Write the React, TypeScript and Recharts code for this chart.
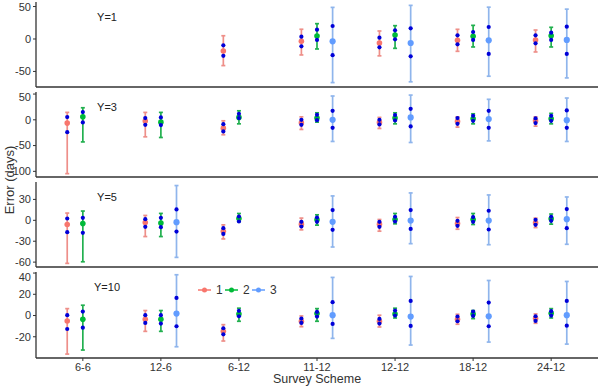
import { ErrorBar, Legend, Scatter, ScatterChart, XAxis, YAxis } from 'recharts';

const schemes = ['6-6', '12-6', '6-12', '11-12', '12-12', '18-12', '24-12'];
const seriesNames = ['1', '2', '3'];
const seriesColors = ['#F8766D', '#00BA38', '#619CFF'];
const barColors = ['#EE8F89', '#22B04F', '#8FB5EC'];
const quartileColor = '#0000D8';
const dodge = [-0.2, 0, 0.2];

// each row: [mean, low, high, lower dot, upper dot], null when missing
type Row = [number, number, number, number, number] | null;

const y1s1: Row[] = [null, null, [-18.5, -41, 5, -26, -9.7], [-3.6, -24.6, 15, -11.3, 3.6], [-6.2, -26, 12.3, -12.8, 2], [-2, -19, 14.9, -8.2, 5.6], [-1.5, -20, 13.8, -6.7, 5.6]];
const y1s2: Row[] = [null, null, null, [4.6, -15.4, 23.6, -1.5, 14.3], [6.2, -14.4, 20.5, -0.5, 13.3], [4.1, -12.3, 21, -1.5, 10.8], [5.1, -12.3, 18, -1.5, 9.7]];
const y1s3: Row[] = [null, null, null, [-3.6, -67.2, 48.7, -25, 20], [-6.2, -66, 51.8, -26.7, 16.4], [-2, -57.4, 49, -23, 18.5], [-1.5, -60, 46, -23, 19]];

const y3s1: Row[] = [[-6.4, -104.5, 14.4, -24, 5.3], [-2.5, -33, 14.4, -9.7, 3.3], [-16.2, -29, -1.9, -22.6, -8.4], [-5.8, -18.7, 5.8, -9.7, 0], [-5, -16.8, 4.7, -9, 0], [-3.1, -14.2, 5.8, -7.8, 3.3], [-1.9, -12.3, 5.8, -6.4, 2.7]];
const y3s2: Row[] = [[5.8, -42.9, 23.4, -5.1, 15], [-4.5, -34.3, 14.4, -10.3, 4.7], [4.7, -7.8, 17.5, 3.3, 11.7], [3.3, -4.5, 13.6, -0.6, 9.7], [3.3, -7.8, 13.6, -1.2, 9.2], [2, -7.8, 11.7, -1.9, 7.8], [2, -7.8, 12.5, -1.9, 7.8]];
const y3s3: Row[] = [null, null, null, [0, -42, 46.2, -15.6, 17.5], [4.7, -44, 48, -12.9, 21.4], [1.4, -40.9, 39.8, -15.6, 17.5], [-0.6, -42, 42.3, -15.6, 18.3]];

const y5s1: Row[] = [[-6, -61.8, 10.4, -17, 2.6], [-3.1, -23.3, 7, -9.4, 1.7], [-15.6, -26.7, -6.5, -19.5, -11.3], [-5.5, -13.7, 3.2, -8.9, -2.2], [-5.5, -15.6, 1.2, -9.4, -2.2], [-4.6, -12.8, 4, -7.9, -0.7], [-3.6, -10.4, 3.2, -6.5, 0.7]];
const y5s2: Row[] = [[-4.6, -59.5, 13.3, -18, 3.6], [-4, -23.3, 9.9, -9.9, 3.6], [2.6, -1.7, 9.8, -1.7, 5.5], [0.7, -6.9, 7.9, -2.2, 4], [1.2, -5, 9.8, -1.7, 5.1], [1.2, -6, 9.8, -2.2, 4.6], [2.2, -5.5, 9, -0.7, 5.1]];
const y5s3: Row[] = [null, [-2.6, -53.2, 49.9, -16.2, 15.6], null, [-2.2, -38.3, 35, -13.7, 14.7], [-0.3, -33.5, 39.3, -12.3, 14.7], [-0.3, -35, 36.4, -13.2, 13.7], [1.7, -34.4, 33.5, -11.3, 16.2]];

const y10s1: Row[] = [[-5.1, -36.3, 6.5, -12.7, 0.3], [-3.5, -14.9, 4.7, -7, 0.3], [-14.9, -24, -8.6, -17.7, -12], [-5.4, -10.5, -0.4, -7, -2.9], [-5.4, -10.8, 0.3, -7.6, -3.2], [-3.5, -8.2, 1.2, -5.4, -1], [-2.9, -7.3, 1.5, -5.1, -0.7]];
const y10s2: Row[] = [[-3.5, -32.5, 9.7, -11.4, 3.7], [-3.5, -14.9, 4.7, -7.6, 0.3], [1.5, -5.4, 6.9, -0.7, 4.4], [1.8, -5.4, 6.5, -1, 3.4], [1.5, -2.3, 6.9, 0, 4.7], [1.5, -2.9, 4.7, -0.4, 3.7], [2.2, -2.3, 6.5, 0, 4.1]];
const y10s3: Row[] = [null, [1.8, -29.4, 38.4, -10.1, 16.6], null, [0.3, -21.5, 35.9, -7.9, 12.6], [-1, -27.8, 36.8, -9.8, 13.8], [-0.7, -25, 33, -10.1, 12.2], [0.3, -26.9, 32.1, -9.6, 13.8]];

const y1Ticks = [-50, -25, 0, 25, 50];
const y3Ticks = [-100, -50, 0, 50];
const y5Ticks = [-60, -30, 0, 30];
const y10Ticks = [-20, 0, 20, 40];
const xTicks = [1, 2, 3, 4, 5, 6, 7];

const panels = [
  { label: 'Y=1', top: 2, h: 85, domain: [-74, 57], ticks: y1Ticks, rows: [y1s1, y1s2, y1s3] },
  { label: 'Y=3', top: 92, h: 85, domain: [-111, 54], ticks: y3Ticks, rows: [y3s1, y3s2, y3s3] },
  { label: 'Y=5', top: 182, h: 85, domain: [-67, 55], ticks: y5Ticks, rows: [y5s1, y5s2, y5s3] },
  { label: 'Y=10', top: 272, h: 86, domain: [-40, 41], ticks: y10Ticks, rows: [y10s1, y10s2, y10s3] },
];

function toMeans(rows: Row[], s: number) {
  const pts: any[] = [];
  rows.forEach((r, i) => {
    if (!r) return;
    pts.push({ x: i + 1 + dodge[s], y: r[0], err: [r[0] - r[1], r[2] - r[0]] });
  });
  return pts;
}

function toQuartiles(rows: Row[][]) {
  const pts: any[] = [];
  rows.forEach((series, s) =>
    series.forEach((r, i) => {
      if (!r) return;
      pts.push({ x: i + 1 + dodge[s], y: r[3] });
      pts.push({ x: i + 1 + dodge[s], y: r[4] });
    }),
  );
  return pts;
}

const dot = (color: string, r: number) => (props: any) => (
  <circle cx={props.cx} cy={props.cy} r={r} fill={color} />
);

const LegendKeys = (props: any) => {
  const items = (props.payload || []).filter((it: any) => seriesNames.includes(it.value));
  return (
    <svg width={90} height={14}>
      {items.map((it: any, i: number) => (
        <g key={it.value} transform={`translate(${i * 27},0)`}>
          <line x1={0} x2={13} y1={7} y2={7} stroke={it.color} strokeWidth={1.5} />
          <circle cx={6.5} cy={7} r={2.5} fill={it.color} />
          <text x={18} y={11} fontSize={12} fill='#333'>
            {it.value}
          </text>
        </g>
      ))}
    </svg>
  );
};

function Panel({ p, last }: { p: (typeof panels)[number]; last: boolean }) {
  const axisH = last ? 30 : 5;
  return (
    <div style={{ position: 'absolute', left: 0, top: p.top - 1 }}>
      <ScatterChart
        width={600}
        height={p.h + 1 + axisH}
        margin={{ top: 1, right: 2, bottom: 0, left: 0 }}
      >
        <XAxis
          type='number'
          dataKey='x'
          domain={[0.4, 7.6]}
          ticks={xTicks}
          allowDataOverflow
          height={axisH}
          tickFormatter={v => schemes[v - 1]}
          tick={last ? { fontSize: 11, fill: '#333' } : false}
          tickSize={3}
          tickLine={{ stroke: '#333' }}
          axisLine={{ stroke: '#333', strokeWidth: 1.3 }}
          label={
            last
              ? { value: 'Survey Scheme', position: 'insideBottom', offset: 5, fill: '#333', fontSize: 12.5 }
              : undefined
          }
        />
        <XAxis
          xAxisId='top'
          orientation='top'
          type='number'
          domain={[0.4, 7.6]}
          allowDataOverflow
          height={0}
          tick={false}
          tickLine={false}
          axisLine={{ stroke: '#bbb' }}
        />
        <YAxis
          type='number'
          dataKey='y'
          domain={p.domain}
          ticks={p.ticks}
          allowDataOverflow
          width={36}
          tick={{ fontSize: 11, fill: '#333' }}
          tickSize={3}
          tickLine={{ stroke: '#333' }}
          axisLine={{ stroke: '#333', strokeWidth: 1.3 }}
        />
        <YAxis
          yAxisId='right'
          orientation='right'
          type='number'
          domain={p.domain}
          allowDataOverflow
          width={0}
          tick={false}
          tickLine={false}
          axisLine={{ stroke: '#bbb' }}
        />
        {p.rows.map((rows, s) => (
          <Scatter
            key={seriesNames[s]}
            name={seriesNames[s]}
            data={toMeans(rows, s)}
            fill={seriesColors[s]}
            isAnimationActive={false}
            shape={dot(seriesColors[s], s === 2 ? 3.1 : 2.8)}
          >
            <ErrorBar dataKey='err' direction='y' width={2} stroke={barColors[s]} strokeWidth={1.7} />
          </Scatter>
        ))}
        <Scatter
          name='quartiles'
          data={toQuartiles(p.rows)}
          fill={quartileColor}
          legendType='none'
          isAnimationActive={false}
          shape={dot(quartileColor, 2.1)}
        />
        {last && (
          <Legend
            layout='horizontal'
            verticalAlign='middle'
            align='center'
            content={LegendKeys}
            wrapperStyle={{ left: 198, top: 12, width: 90, height: 14 }}
          />
        )}
      </ScatterChart>
      <div
        style={{
          position: 'absolute',
          left: 92,
          top: 10,
          width: 30,
          textAlign: 'center',
          fontSize: 11,
          lineHeight: '12px',
          color: '#222',
        }}
      >
        {p.label}
      </div>
    </div>
  );
}

export default function App() {
  return (
    <div
      style={{
        position: 'absolute',
        left: 0,
        top: 0,
        width: 600,
        height: 388,
        background: '#fff',
        fontFamily: '"Liberation Sans", Arial, sans-serif',
      }}
    >
      {panels.map((p, i) => (
        <Panel key={p.label} p={p} last={i === panels.length - 1} />
      ))}
      <div
        style={{
          position: 'absolute',
          left: -40,
          top: 172,
          width: 100,
          textAlign: 'center',
          fontSize: 13,
          lineHeight: '16px',
          color: '#333',
          transform: 'rotate(-90deg)',
        }}
      >
        Error (days)
      </div>
    </div>
  );
}
